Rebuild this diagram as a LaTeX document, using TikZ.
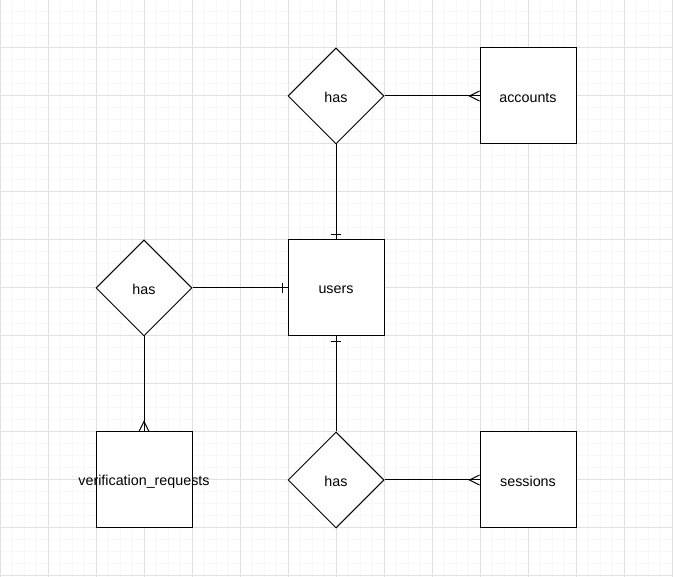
\documentclass[tikz,border=0pt]{standalone}
\usepackage{fontspec}
\setmainfont{Liberation Sans}
\usetikzlibrary{shapes.geometric,calc}
\definecolor{minorgrid}{HTML}{F7F7F7}
\definecolor{majorgrid}{HTML}{E0E0E0}
\tikzset{
  entity/.style={draw=black, line width=1pt, minimum width=96pt, minimum height=96pt, inner sep=0pt, fill=white},
  rel/.style={draw=black, line width=1pt, diamond, minimum width=96pt, minimum height=96pt, inner sep=0pt, aspect=1, fill=white},
  lbl/.style={font=\fontsize{14.3}{16}\selectfont, inner sep=0pt, yshift=-1.5pt},
  conn/.style={draw=black, line width=1pt},
}
\begin{document}
\begin{tikzpicture}[x=1pt,y=-1pt]
\useasboundingbox (0,0) rectangle (673,577);
\fill[white] (0,0) rectangle (673,577);
\foreach \i in {0,12,...,672} \draw[minorgrid, line width=1pt] (\i,0) -- (\i,577);
\foreach \i in {0,12,...,576} \draw[minorgrid, line width=1pt] (0,\i) -- (673,\i);
\foreach \i in {0,48,...,672} \draw[majorgrid, line width=1pt] (\i,0) -- (\i,577);
\foreach \i in {0,48,...,576} \draw[majorgrid, line width=1pt] (0,\i) -- (673,\i);

\node[entity] (acc) at (528,96) {};
\node[entity] (usr) at (336,288) {};
\node[entity] (ver) at (144,480) {};
\node[entity] (ses) at (528,480) {};
\node[rel] (h1) at (336,96) {};
\node[rel] (h2) at (144,288) {};
\node[rel] (h3) at (336,480) {};
\node[lbl] (tacc) at (acc) {accounts};
\node[lbl] (tusr) at (usr) {users};
\node[lbl] (tver) at (ver) {verification\_requests};
\node[lbl] (tses) at (ses) {sessions};
\node[lbl] (th1) at (h1) {has};
\node[lbl] (th2) at (h2) {has};
\node[lbl] (th3) at (h3) {has};

% has -- accounts (many)
\draw[conn] (h1.east) -- (acc.west);
\draw[conn] ($(acc.west)+(0,-5)$) -- ($(acc.west)+(-10,0)$) -- ($(acc.west)+(0,5)$);
% has -- users (one)
\draw[conn] (h1.south) -- (usr.north);
\draw[conn] ($(usr.north)+(-5,-5)$) -- ($(usr.north)+(5,-5)$);
% has (left) -- users (one)
\draw[conn] (h2.east) -- (usr.west);
\draw[conn] ($(usr.west)+(-5,-5)$) -- ($(usr.west)+(-5,5)$);
% has (left) -- verification_requests (many)
\draw[conn] (h2.south) -- (ver.north);
\draw[conn] ($(ver.north)+(-5,0)$) -- ($(ver.north)+(0,-10)$) -- ($(ver.north)+(5,0)$);
% has (bottom) -- users (one)
\draw[conn] (h3.north) -- (usr.south);
\draw[conn] ($(usr.south)+(-5,5)$) -- ($(usr.south)+(5,5)$);
% has (bottom) -- sessions (many)
\draw[conn] (h3.east) -- (ses.west);
\draw[conn] ($(ses.west)+(0,-5)$) -- ($(ses.west)+(-10,0)$) -- ($(ses.west)+(0,5)$);
\end{tikzpicture}
\end{document}
